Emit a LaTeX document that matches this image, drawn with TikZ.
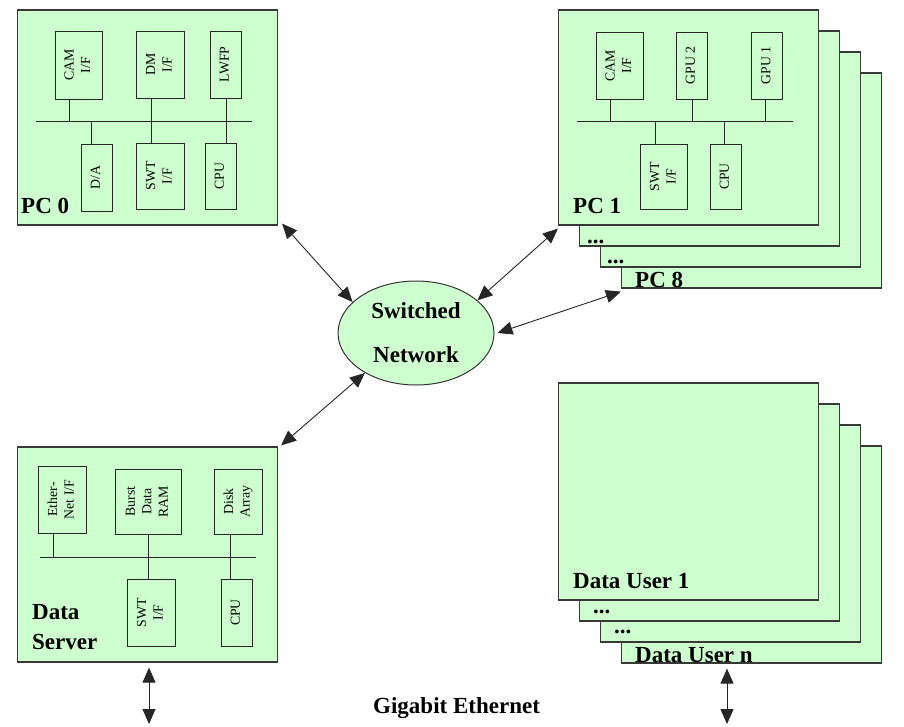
\documentclass[tikz,border=0pt]{standalone}
\usepackage{fontspec}
\setmainfont{Liberation Serif}
\usepackage{graphicx}
\usetikzlibrary{shapes.geometric, arrows.meta}

\definecolor{boxgreen}{RGB}{206,255,206}
\newcommand{\sidetext}[1]{\rotatebox{90}{\begin{tabular}{@{}c@{}}#1\end{tabular}}}

\tikzset{
  frame/.style={draw=black!78, fill=boxgreen, line width=1.2pt, inner sep=0pt,
    minimum width=260pt, minimum height=215pt},
  unit/.style={draw=black!85, line width=0.9pt, inner sep=0pt,
    font=\fontsize{13.8}{16.5}\selectfont},
  title/.style={anchor=base west, inner sep=0pt, align=left,
    font=\fontsize{23}{30}\selectfont\bfseries},
  bus/.style={draw=black!85, line width=0.9pt},
  link/.style={{Triangle[length=15pt,width=13pt]}-{Triangle[length=15pt,width=13pt]},
    draw=black!85, line width=0.9pt}
}

\begin{document}
\begin{tikzpicture}[x=1pt, y=1pt, yscale=-1, xscale=1]
\useasboundingbox (0,0) rectangle (904,726);

%PC 0
\node[frame] (pc0) at (147.5,117.5) {};
\node[unit, minimum width=47pt, minimum height=68pt] (cam0) at (78.5,65) {\sidetext{CAM\\I/F}};
\node[unit, minimum width=48pt, minimum height=67pt] (dm0) at (160,64.5) {\sidetext{DM\\I/F}};
\node[unit, minimum width=31pt, minimum height=67pt] (lwfp) at (225.5,64.5) {\sidetext{LWFP}};
\node[unit, minimum width=31pt, minimum height=67pt] (da0) at (96.5,177.5) {\sidetext{D/A}};
\node[unit, minimum width=48pt, minimum height=66pt] (swt0) at (160,176) {\sidetext{SWT\\I/F}};
\node[unit, minimum width=31pt, minimum height=66pt] (cpu0) at (220.5,176) {\sidetext{CPU}};
\draw[bus] (36,121) -- (252,121);
\draw[bus] (cam0.south) ++(-9.5,0) -- ++(0,22);
\draw[bus] (da0.north) ++(-5.5,0) -- ++(0,-23);
\draw[bus] (dm0.south) ++(-9,0) -- ++(0,45);
\draw[bus] (lwfp.south) ++(0.5,0) -- ++(0,45);
\node[title] (pc0t) at (21,213) {PC 0};

%PC 1 ... PC 8
\node[frame] (pc8) at (751.5,180.5) {};
\node[frame] (pcc) at (730.5,159.5) {};
\node[frame] (pcb) at (709.5,138.5) {};
\node[frame] (pc1) at (688.5,117.5) {};
\node[title] (pc8t) at (635,287) {PC 8};
\node[title] (pcct) at (607,263) {...};
\node[title] (pcbt) at (587,243) {...};
\node[unit, minimum width=47pt, minimum height=67pt] (cam1) at (619.5,65.5) {\sidetext{CAM\\I/F}};
\node[unit, minimum width=31pt, minimum height=67pt] (gpu2) at (691.5,65.5) {\sidetext{GPU 2}};
\node[unit, minimum width=31pt, minimum height=67pt] (gpu1) at (767,65.5) {\sidetext{GPU 1}};
\node[unit, minimum width=47pt, minimum height=65pt] (swt1) at (664,176.5) {\sidetext{SWT\\I/F}};
\node[unit, minimum width=31pt, minimum height=65pt] (cpu1) at (725.5,176.5) {\sidetext{CPU}};
\draw[bus] (577,121) -- (793,121);
\draw[bus] (cam1.south) ++(-9.5,0) -- ++(0,22);
\draw[bus] (gpu2.south) ++(0.5,0) -- ++(0,22);
\draw[bus] (gpu1.south) ++(-2,0) -- ++(0,22);
\draw[bus] (swt1.north) ++(-9,0) -- ++(0,-23);
\draw[bus] (cpu1.north) ++(-1.5,0) -- ++(0,-23);
\node[title] (pc1t) at (573,213) {PC 1};

%Data server
\node[frame] (ds) at (147.5,554.5) {};
\node[unit, minimum width=48pt, minimum height=67pt] (eth) at (62,499.5) {\sidetext{Ether-\\Net I/F}};
\node[unit, minimum width=66pt, minimum height=65pt] (ram) at (148,501.5) {\sidetext{Burst\\Data\\RAM}};
\node[unit, minimum width=48pt, minimum height=65pt] (disk) at (238,501.5) {\sidetext{Disk\\Array}};
\node[unit, minimum width=48pt, minimum height=67pt] (swt2) at (151,612.5) {\sidetext{SWT\\I/F}};
\node[unit, minimum width=31pt, minimum height=67pt] (cpu2) at (236.5,612.5) {\sidetext{CPU}};
\draw[bus] (40,557) -- (256,557);
\draw[bus] (eth.south) ++(-9,0) -- ++(0,24);
\draw[bus] (ram.south) -- ++(0,45);
\draw[bus] (disk.south) ++(-8,0) -- ++(0,45);
\node[title] (dst) at (32,649) {Data\\Server};

%Data users
\node[frame, minimum height=217pt] (dun) at (751.5,554.5) {};
\node[frame, minimum height=217pt] (duc) at (730.5,533.5) {};
\node[frame, minimum height=217pt] (dub) at (709.5,512.5) {};
\node[frame, minimum height=217pt] (du1) at (688.5,491.5) {};
\node[title] (dunt) at (635,662) {Data User n};
\node[title] (duct) at (614,633) {...};
\node[title] (dubt) at (593,613) {...};
\node[title] (du1t) at (573,588) {Data User 1};

%Switch
\node[ellipse, draw=black!80, fill=boxgreen, line width=1pt, minimum width=156pt,
  minimum height=104pt, inner sep=0pt, align=center,
  font=\fontsize{23}{44}\selectfont\bfseries] (sw) at (416,333) {Switched\\Network};

%Links
\draw[link] ([shift={(4,-2)}]pc0.south east) -- (sw.154);
\draw[link] ([shift={(0,3)}]pc1.south west) -- (sw.28);
\draw[link] ([shift={(0,3)}]pc8.south west) -- ([xshift=3pt]sw.east);
\draw[link] (sw.218) -- ([shift={(3,-1)}]ds.north east);
\coordinate (dsout) at (149,724);
\coordinate (duout) at (727,724);
\draw[link] ([shift={(1.5,5)}]ds.south) -- (dsout);
\draw[link] ([shift={(-24.5,5)}]dun.south) -- (duout);
\node[title] (ge) at (373,713) {Gigabit Ethernet};
\end{tikzpicture}
\end{document}
